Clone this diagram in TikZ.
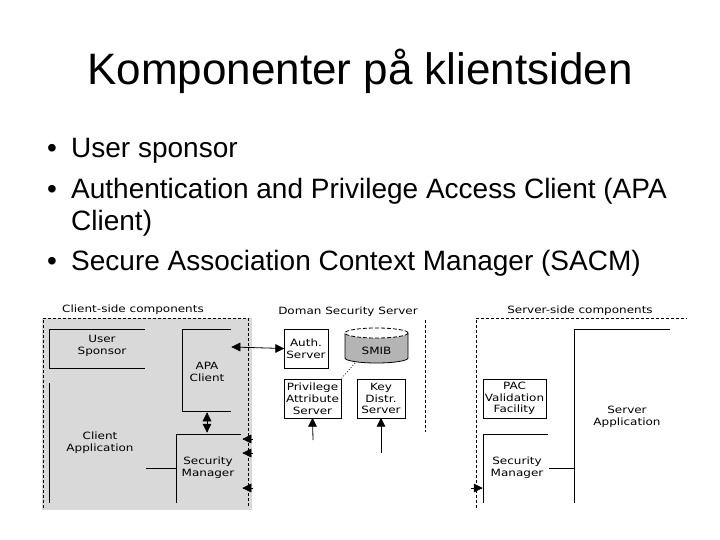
\documentclass[tikz,border=0pt]{standalone}
\usepackage{fontspec}
\setmainfont{Liberation Sans}
\newfontfamily\diafont[FakeStretch=1.2]{DejaVu Sans}
\definecolor{clientgrey}{HTML}{D9D9D9}
\definecolor{smibgrey}{HTML}{B4B4B4}
\tikzset{
  lbl/.style={inner sep=0pt, align=center, font=\diafont\fontsize{10bp}{11.8bp}\selectfont},
  boxed/.style={lbl, draw, line width=0.8bp, inner sep=0pt},
  wall/.style={line width=0.8bp},
  zone/.style={dashed, line width=0.7bp, dash pattern=on 3bp off 2bp},
  bitext/.style={font=\fontsize{28bp}{32bp}\selectfont, anchor=base west, inner sep=0pt},
  headfill/.style={fill=black, draw=black, line width=0.5bp, line join=miter},
}
\begin{document}
\begin{tikzpicture}[x=1bp,y=-1bp]
\useasboundingbox (0,0) rectangle (720,540);
% title
\node[font=\fontsize{44bp}{50bp}\selectfont, anchor=base, inner sep=0pt] (title) at (360,85) {Komponenter på klientsiden};
% bullets
\node[bitext] (b1) at (47,158) {•};
\node[bitext] (t1) at (71,158) {User sponsor};
\node[bitext] (b2) at (47,199) {•};
\node[bitext] (t2) at (71,199) {Authentication and Privilege Access Client (APA};
\node[bitext] (t2b) at (71,231) {Client)};
\node[bitext] (b3) at (47,271) {•};
\node[bitext] (t3) at (71,271) {Secure Association Context Manager (SACM)};

% ---------- client side ----------
\fill[clientgrey] (42,318) rectangle (252,510);
\draw[zone] (43,508) -- (43,318) -- (248,318) -- (248,508);
\node[lbl] (cstitle) at (133,310) {Client-side components};
% User sponsor
\draw[wall] (145,329) -- (49,329) -- (49,368) -- (145,368);
\node[lbl] (us) at (102,346) {User\\Sponsor};
% Client application
\draw[wall] (49,383) -- (49,503);
\node[lbl] (ca) at (100,443) {Client\\Application};
% APA client
\draw[wall] (231,329) -- (182,329) -- (182,411) -- (231,411);
\node[lbl] (apa) at (207,372) {APA\\Client};
% Security manager (client)
\draw[wall] (241,434) -- (176,434) -- (176,503);
\node[lbl] (csm) at (208,468) {Security\\Manager};
\coordinate (caR) at (146,468);
\coordinate (csmL) at (176,468);
\draw[wall] (caR) -- (csmL);
\coordinate (apaB) at (207,413);
\coordinate (csmT) at (207,432);
\draw[wall] (apaB) -- (csmT);
\path[headfill] (apaB) -- ++(-4,8) -- ++(8,0) -- cycle;
\path[headfill] (csmT) -- ++(-4,-8) -- ++(8,0) -- cycle;
\coordinate (apaR) at (232,347);
% incoming tips on right border
\coordinate (e1) at (253,439); \coordinate (f1) at (243,439);
\coordinate (e2) at (253,453); \coordinate (f2) at (243,453);
\coordinate (e3) at (253,488); \coordinate (f3) at (243,488);
\draw[wall] (e1) -- (f1); \path[headfill] (f1) -- ++(8,-4) -- ++(0,8) -- cycle;
\draw[wall] (e2) -- (f2); \path[headfill] (f2) -- ++(8,-4) -- ++(0,8) -- cycle;
\draw[wall] (e3) -- (f3); \path[headfill] (f3) -- ++(8,-4) -- ++(0,8) -- cycle;

% ---------- domain security server ----------
\node[lbl] (dstitle) at (348,312) {Doman Security Server};
\node[boxed, minimum width=44bp, minimum height=39bp] (auth) at (306,348.5) {Auth.\\Server};
\draw[wall] (apaR) -- (auth.west);
\path[headfill] (apaR) -- ++(8,-4) -- ++(0,8) -- cycle;
\path[headfill] (auth.west) -- ++(-8,-4) -- ++(0,8) -- cycle;
% SMIB cylinder
\fill[smibgrey, draw=black, line width=0.8bp] (345,333) -- (345,358) arc[start angle=180, end angle=360, x radius=31.5, y radius=-5] -- (408,333);
\draw[fill=white, dashed, line width=0.8bp, dash pattern=on 4bp off 2bp] (376.5,333) ellipse[x radius=31.5, y radius=5];
\node[lbl] (smib) at (376.5,351) {SMIB};
\node[boxed, minimum width=57bp, minimum height=39bp] (priv) at (312.5,398.5) {Privilege\\Attribute\\Server};
\node[boxed, minimum width=48bp, minimum height=39bp] (kds) at (381,398.5) {Key\\Distr.\\Server};
\coordinate (smibBL) at (355,363);
\draw[dotted, line width=0.8bp] (smibBL) -- (priv.north east);
\coordinate (pin) at (313,440);
\coordinate (kin) at (381,453);
\draw[wall] (pin) -- (priv.south);
\path[headfill] (priv.south) -- ++(-4,8) -- ++(8,0) -- cycle;
\draw[wall] (kin) -- (kds.south);
\path[headfill] (kds.south) -- ++(-4,8) -- ++(8,0) -- cycle;
\coordinate (dsa) at (425,320);
\coordinate (dsb) at (425,432);
\draw[zone] (dsa) -- (dsb);

% ---------- server side ----------
\node[lbl] (sstitle) at (580,311) {Server-side components};
\draw[zone] (476,508) -- (476,318) -- (687,318);
\node[boxed, minimum width=63bp, minimum height=39bp] (pac) at (514.5,398.5) {PAC\\Validation\\Facility};
\draw[wall] (670,329) -- (574,329) -- (574,503);
\node[lbl] (sapp) at (627,417) {Server\\Application};
\draw[wall] (548,434) -- (483,434) -- (483,503);
\node[lbl] (ssm) at (517,468) {Security\\Manager};
\coordinate (ssmR) at (549,468);
\coordinate (sappL) at (574,468);
\draw[wall] (ssmR) -- (sappL);
\coordinate (sin) at (471,488);
\coordinate (sinE) at (482,488);
\draw[wall] (sin) -- (sinE);
\path[headfill] (sinE) -- ++(-8,-4) -- ++(0,8) -- cycle;
\end{tikzpicture}
\end{document}
